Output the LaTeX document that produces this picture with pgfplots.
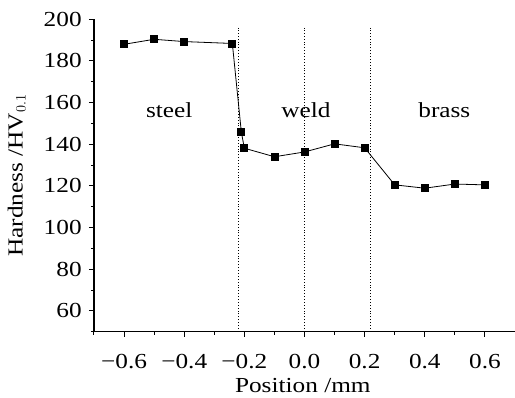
\documentclass[border=0pt]{standalone}
\usepackage{fontspec}
\setmainfont[FakeStretch=1.18]{Liberation Serif}
\usepackage{pgfplots}
\pgfplotsset{compat=1.18}
\usetikzlibrary{calc}
\begin{document}
\fontsize{21.5}{25}\selectfont
\begin{tikzpicture}
\begin{axis}[
  name=ax,
  scale only axis, width=421bp, height=312.4bp,
  xmin=-0.7, xmax=0.7, ymin=50, ymax=200,
  axis x line*=bottom, axis y line*=left,
  axis line style={line width=1.2bp, -},
  xtick={-0.6,-0.4,-0.2,0,0.2,0.4,0.6},
  xticklabels={−0.6,−0.4,−0.2,0.0,0.2,0.4,0.6},
  minor xtick={-0.7,-0.5,-0.3,-0.1,0.1,0.3,0.5,0.7},
  ytick={60,80,100,120,140,160,180,200},
  yticklabels={60,80,100,120,140,160,180,200},
  minor ytick={50,70,90,110,130,150,170,190},
  tick align=outside,
  major tick length=5bp, minor tick length=3bp,
  tick style={line width=1bp, black},
  xticklabel style={anchor=base, yshift=-32bp},
  yticklabel style={anchor=east, xshift=0bp},
  xlabel={Position /mm},
  ylabel={Hardness /HV$_{0.1}$},
  xlabel style={at={(axis description cs:0.496,0)}, anchor=base, yshift=-60.5bp},
  ylabel style={at={(axis description cs:-0.145,0.5)}, anchor=south, rotate=0},
  clip=false,
]
\addplot[black, dotted, line width=0.9bp] coordinates {(-0.22,50) (-0.22,196)};
\addplot[black, dotted, line width=0.9bp] coordinates {(0,50) (0,196)};
\addplot[black, dotted, line width=0.9bp] coordinates {(0.22,50) (0.22,196)};
\addplot[black, line width=0.8bp, mark=square*, mark size=3.5bp, mark options={solid, fill=black}]
  coordinates {
  (-0.6,188.0) (-0.5,190.4) (-0.4,189.3) (-0.24,188.4) (-0.21,145.8) (-0.2,138.1)
  (-0.1,134.0) (0,136.3) (0.1,140.2) (0.2,138.3) (0.3,120.5) (0.4,118.9)
  (0.5,120.9) (0.6,120.5)
  };
\node at (axis cs:-0.45,156.4) {steel};
\node at (axis cs:0.005,156.4) {weld};
\node at (axis cs:0.465,156.4) {brass};
\end{axis}
\pgfresetboundingbox
\path[use as bounding box] ($(ax.south west)+(-94bp,-66.3bp)$) rectangle ($(ax.south west)+(421bp,331.7bp)$);
\end{tikzpicture}
\end{document}
